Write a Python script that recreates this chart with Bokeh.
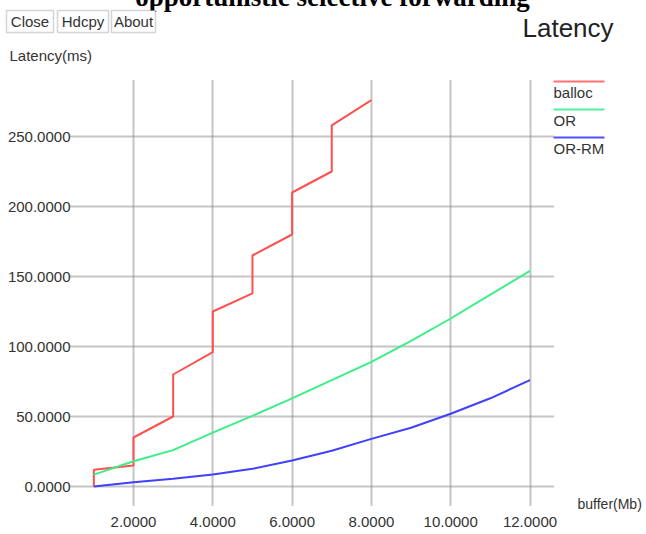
from bokeh.plotting import figure
from bokeh.embed import file_html
from bokeh.resources import INLINE
from bokeh.models import (PrintfTickFormatter, FixedTicker, Label, BoxAnnotation)

# ---- data ----
balloc_x = [1, 1, 2, 2, 3, 3, 4, 4, 5, 5, 6, 6, 7, 7, 8]
balloc_y = [0, 12, 15, 35, 50, 80, 96, 125, 138, 165, 180, 210, 225, 258, 276]

or_x = [1, 2, 3, 4, 5, 6, 7, 8, 9, 10, 11, 12]
or_y = [8.5, 18, 26, 38.5, 50.5, 63, 76, 89, 104, 120, 137, 154]

orrm_x = [1, 2, 3, 4, 5, 6, 7, 8, 9, 10, 11, 12]
orrm_y = [0, 3, 5.5, 8.5, 12.6, 18.6, 25.5, 34, 42, 52, 63, 76]

series_names = ["balloc", "OR", "OR-RM"]
series_colors = ["#ff5050", "#3cee88", "#4040ff"]
legend_colors = ["#ff7070", "#50f0a0", "#5050ff"]

x_ticks = [2, 4, 6, 8, 10, 12]
y_ticks = [0, 50, 100, 150, 200, 250]

# ---- layout constants ----
W, H = 646, 534
OX, OY = -4, -4          # page position of the canvas
PX_X, PX_Y = 39.65, 1.4  # pixels per data unit
X_REF_PAGE, Y_REF_PAGE = 133, 486  # page px of x=2 and y=0

def cx(page_x):
    return page_x - OX

def cy(page_y):
    return page_y - OY

x0 = 2 - cx(X_REF_PAGE) / PX_X
x1 = x0 + W / PX_X
y1 = cy(Y_REF_PAGE) / PX_Y
y0 = y1 - H / PX_Y

plot_left = 2 - (X_REF_PAGE - 70) / PX_X
plot_right = 2 + (553 - X_REF_PAGE) / PX_X
plot_bottom = -(505 - Y_REF_PAGE) / PX_Y
plot_top = (Y_REF_PAGE - 80) / PX_Y

FONT = "Liberation Sans"
TXT = "#333333"
GRID = "#8a8a8a"

p = figure(width=W, height=H, output_backend="svg", toolbar_location=None,
           x_range=(x0, x1), y_range=(y0, y1),
           min_border=0, min_border_left=0, min_border_right=0,
           min_border_top=0, min_border_bottom=0)
p.margin = (-4, -4, -4, -4)
p.outline_line_color = None
p.background_fill_color = "white"
p.border_fill_color = "white"

for ax in (p.xaxis[0], p.yaxis[0]):
    ax.axis_line_color = None
    ax.major_tick_line_color = None
    ax.minor_tick_line_color = None
    ax.major_tick_out = 0
    ax.major_tick_in = 0
    ax.minor_tick_out = 0
    ax.minor_tick_in = 0
    ax.major_label_text_font = FONT
    ax.major_label_text_font_size = "15px"
    ax.major_label_text_color = TXT
    ax.formatter = PrintfTickFormatter(format="%.4f")

p.xaxis.ticker = FixedTicker(ticks=x_ticks)
p.yaxis.ticker = FixedTicker(ticks=y_ticks)
p.xaxis.fixed_location = plot_bottom
p.yaxis.fixed_location = plot_left
p.xaxis.major_label_standoff = 11
p.yaxis.major_label_standoff = 0

grid_segments_needed = False
for g, cb in ((p.xgrid[0], (plot_bottom, plot_top)), (p.ygrid[0], (plot_left, plot_right))):
    g.grid_line_color = GRID
    g.grid_line_width = 2
    g.grid_line_dash = "1 1"
    try:
        g.cross_bounds = cb
    except AttributeError:
        grid_segments_needed = True

if grid_segments_needed:
    p.xgrid.visible = False
    p.ygrid.visible = False
    p.segment(x0=x_ticks, y0=[plot_bottom] * len(x_ticks), x1=x_ticks, y1=[plot_top] * len(x_ticks),
              line_color=GRID, line_width=2, line_dash="1 1")
    p.segment(x0=[plot_left] * len(y_ticks), y0=y_ticks, x1=[plot_right] * len(y_ticks), y1=y_ticks,
              line_color=GRID, line_width=2, line_dash="1 1")

p.line(balloc_x, balloc_y, line_color=series_colors[0], line_width=2)
p.line(or_x, or_y, line_color=series_colors[1], line_width=2)
p.line(orrm_x, orrm_y, line_color=series_colors[2], line_width=2)

# ---- decorations (canvas units, y = vertical centre of the text) ----
def label(text, x, y, size, align="left", font=FONT, style="normal", color=TXT):
    p.add_layout(Label(x=cx(x), y=cy(y), x_units="canvas", y_units="canvas",
                       text=text, text_font=font, text_font_style=style,
                       text_font_size=size, text_color=color,
                       text_align=align, text_baseline="middle"))

label("opportunistic selective forwarding", 332, -4, "27px", align="center",
      font="Liberation Serif", style="bold", color="black")

for txt, l, r in (("Close", 6, 53), ("Hdcpy", 57, 108), ("About", 111, 155)):
    p.add_layout(BoxAnnotation(left=cx(l), right=cx(r), top=cy(10), bottom=cy(32),
                               left_units="canvas", right_units="canvas",
                               top_units="canvas", bottom_units="canvas",
                               fill_color="white", fill_alpha=1.0,
                               line_color="#707070", line_width=1.5))
    label(txt, (l + r) / 2, 20.5, "15px", align="center")

label("Latency", 522, 27.5, "26px", color="#222222")
label("Latency(ms)", 9, 54.5, "15px")
label("buffer(Mb)", 577, 503.5, "14px")

for i, (name, col) in enumerate(zip(series_names, legend_colors)):
    ly = 81 + i * 28
    p.add_layout(BoxAnnotation(left=cx(553), right=cx(604), top=cy(ly - 1), bottom=cy(ly + 1),
                               left_units="canvas", right_units="canvas",
                               top_units="canvas", bottom_units="canvas",
                               fill_color=col, fill_alpha=1.0, line_color=None))
    label(name, 553, ly + 10.5, "15px")

open("out.html", "w").write(file_html(p, INLINE))
